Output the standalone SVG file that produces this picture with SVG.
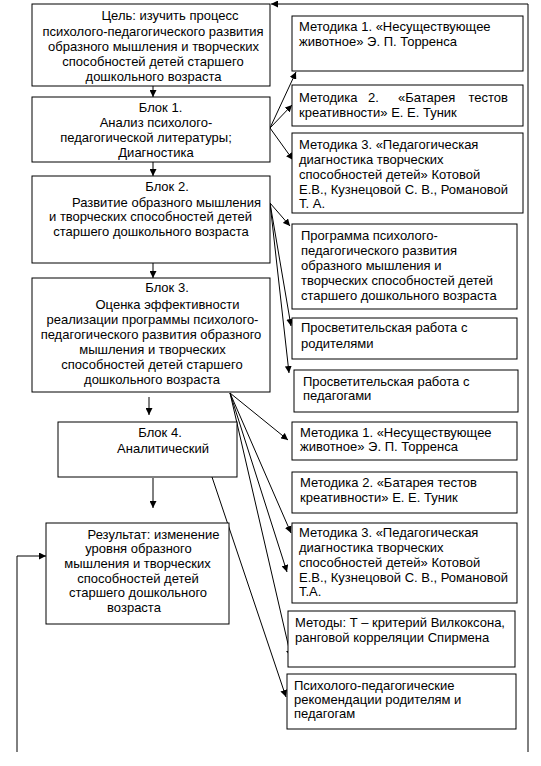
<svg xmlns="http://www.w3.org/2000/svg" width="541" height="766" viewBox="0 0 541 766">
<defs>
<marker id="ah" viewBox="0 0 10 10" refX="10" refY="5" markerWidth="7" markerHeight="7" markerUnits="userSpaceOnUse" orient="auto">
<path d="M0,0 L10,5 L0,10 z" fill="#000"/>
</marker>
<style>
rect{fill:#fff;stroke:#000;stroke-width:1}
text{font-family:"Liberation Sans",Arial,sans-serif;font-size:13px;fill:#000}
.c{text-anchor:middle}
.con line,.con polyline{stroke:#000;stroke-width:1;fill:none}
.a{marker-end:url(#ah)}
</style>
</defs>
<rect x="0" y="0" width="541" height="766" style="stroke:none"/>
<g class="con">
<line class="a" x1="153" y1="86" x2="153" y2="97"/>
<line class="a" x1="153" y1="162" x2="153" y2="176"/>
<line class="a" x1="153" y1="263" x2="153" y2="278"/>
<line class="a" x1="149" y1="397" x2="149" y2="415"/>
<line class="a" x1="153" y1="478" x2="153" y2="508"/>
<line class="a" x1="270" y1="128" x2="296" y2="72"/>
<line class="a" x1="270" y1="128" x2="292" y2="105"/>
<line class="a" x1="270" y1="128" x2="293" y2="160"/>
<line class="a" x1="270" y1="203" x2="290" y2="226"/>
<line class="a" x1="270" y1="203" x2="291" y2="326"/>
<line class="a" x1="270" y1="203" x2="289" y2="373"/>
<line class="a" x1="230" y1="393" x2="288" y2="440"/>
<line class="a" x1="230" y1="393" x2="291" y2="533"/>
<line class="a" x1="230" y1="393" x2="287" y2="572"/>
<line class="a" x1="230" y1="393" x2="291" y2="657"/>
<line class="a" x1="212" y1="477" x2="286" y2="697"/>
<polyline class="a" points="17,752 17,556 46,556"/>
<polyline class="a" points="528,752 528,4 271,4"/>
</g>
<g id="goal">
<rect x="32" y="4" width="238" height="82"/>
<text class="c" x="170" y="20">Цель: изучить процесс</text>
<text class="c" x="153" y="36">психолого-педагогического развития</text>
<text class="c" x="153.5" y="51">образного мышления и творческих</text>
<text class="c" x="153" y="66">способностей детей старшего</text>
<text class="c" x="153.5" y="81">дошкольного возраста</text>
</g>
<g id="block1">
<rect x="32" y="97" width="238" height="65"/>
<text class="c" x="160.5" y="112">Блок 1.</text>
<text class="c" x="156" y="127">Анализ психолого-</text>
<text class="c" x="146" y="142">педагогической литературы;</text>
<text class="c" x="156" y="157">Диагностика</text>
</g>
<g id="block2">
<rect x="32" y="176" width="238" height="87"/>
<text class="c" x="167" y="191">Блок 2.</text>
<text class="c" x="166.5" y="207">Развитие образного мышления</text>
<text class="c" x="150.5" y="221">и творческих способностей детей</text>
<text class="c" x="151" y="236">старшего дошкольного возраста</text>
</g>
<g id="block3">
<rect x="32" y="278" width="238" height="114"/>
<text class="c" x="167" y="292">Блок 3.</text>
<text class="c" x="167.5" y="309">Оценка эффективности</text>
<text class="c" x="152.5" y="324">реализации программы психолого-</text>
<text class="c" x="151" y="339">педагогического развития образного</text>
<text class="c" x="152.5" y="354">мышления и творческих</text>
<text class="c" x="152" y="369">способностей детей старшего</text>
<text class="c" x="152" y="384">дошкольного возраста</text>
</g>
<g id="block4">
<rect x="58" y="422" width="179" height="55"/>
<text class="c" x="160" y="437">Блок 4.</text>
<text class="c" x="163" y="453">Аналитический</text>
</g>
<g id="result">
<rect x="46" y="523" width="183" height="101"/>
<text class="c" x="153.5" y="539">Результат: изменение</text>
<text class="c" x="138.5" y="553">уровня образного</text>
<text class="c" x="137.5" y="568">мышления и творческих</text>
<text class="c" x="138" y="583">способностей детей</text>
<text class="c" x="138" y="597">старшего дошкольного</text>
<text class="c" x="134" y="612">возраста</text>
</g>
<g id="m1">
<rect x="292" y="16" width="231" height="55"/>
<text x="299" y="31">Методика 1. «Несуществующее</text>
<text x="299" y="46">животное» Э. П. Торренса</text>
</g>
<g id="m2">
<rect x="292" y="85" width="231" height="41"/>
<text y="102"><tspan x="299">Методика</tspan><tspan x="368">2.</tspan><tspan x="398">«Батарея</tspan><tspan x="508" text-anchor="end">тестов</tspan></text>
<text x="299" y="117">креативности» Е. Е. Туник</text>
</g>
<g id="m3">
<rect x="292" y="133" width="231" height="80"/>
<text x="299" y="149">Методика 3. «Педагогическая</text>
<text x="299" y="164">диагностика творческих</text>
<text x="299" y="179">способностей детей» Котовой</text>
<text x="299" y="194">Е.В., Кузнецовой С. В., Романовой</text>
<text x="299" y="208">Т. А.</text>
</g>
<g id="program">
<rect x="292" y="224" width="225" height="85"/>
<text x="301" y="240">Программа психолого-</text>
<text x="301" y="255">педагогического развития</text>
<text x="301" y="270">образного мышления и</text>
<text x="301" y="285">творческих способностей детей</text>
<text x="301" y="300">старшего дошкольного возраста</text>
</g>
<g id="parents">
<rect x="292" y="318" width="225" height="41"/>
<text x="301" y="332">Просветительская работа с</text>
<text x="301" y="348">родителями</text>
</g>
<g id="teachers">
<rect x="294" y="370" width="224" height="42"/>
<text x="303" y="386">Просветительская работа с</text>
<text x="303" y="400">педагогами</text>
</g>
<g id="m1b">
<rect x="292" y="422" width="225" height="38"/>
<text x="300" y="437">Методика 1. «Несуществующее</text>
<text x="300" y="451">животное» Э. П. Торренса</text>
</g>
<g id="m2b">
<rect x="292" y="472" width="225" height="41"/>
<text x="300" y="487">Методика 2. «Батарея тестов</text>
<text x="300" y="502">креативности» Е. Е. Туник</text>
</g>
<g id="m3b">
<rect x="292" y="523" width="225" height="80"/>
<text x="299" y="537">Методика 3. «Педагогическая</text>
<text x="299" y="552">диагностика творческих</text>
<text x="299" y="567">способностей детей» Котовой</text>
<text x="299" y="582">Е.В., Кузнецовой С. В., Романовой</text>
<text x="299" y="596">Т.А.</text>
</g>
<g id="methods">
<rect x="288" y="611" width="227" height="56"/>
<text x="295" y="627">Методы: Т – критерий Вилкоксона,</text>
<text x="295" y="642">ранговой корреляции Спирмена</text>
</g>
<g id="recs">
<rect x="287" y="674" width="229" height="55"/>
<text x="294" y="690">Психолого-педагогические</text>
<text x="294" y="704">рекомендации родителям и</text>
<text x="294" y="718">педагогам</text>
</g>
</svg>
